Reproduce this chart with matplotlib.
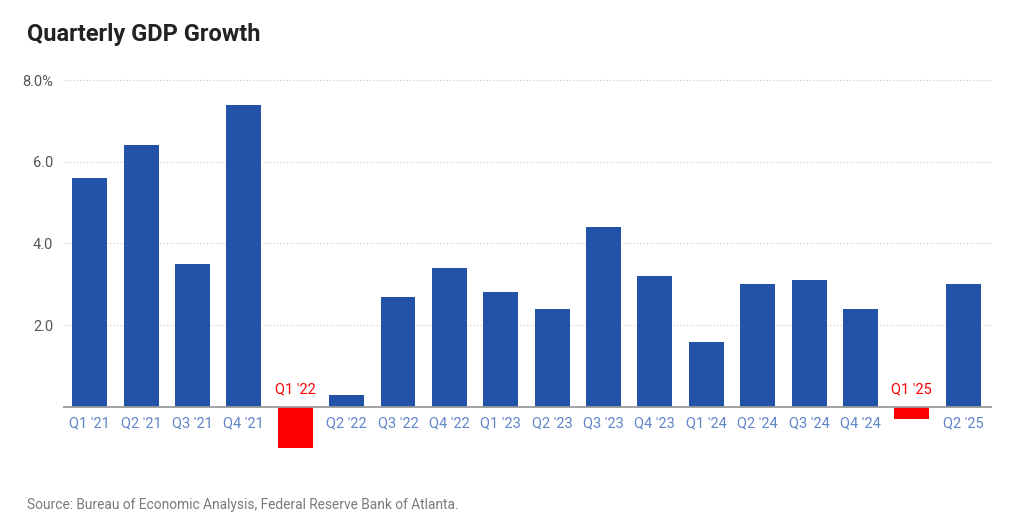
import matplotlib.pyplot as plt
import numpy as np

plt.rcParams['font.family'] = ['Roboto', 'DejaVu Sans']

# Data
quarters = ["Q1 '21", "Q2 '21", "Q3 '21", "Q4 '21", "Q1 '22", "Q2 '22", "Q3 '22", "Q4 '22",
            "Q1 '23", "Q2 '23", "Q3 '23", "Q4 '23", "Q1 '24", "Q2 '24", "Q3 '24", "Q4 '24",
            "Q1 '25", "Q2 '25"]
growth = [5.6, 6.4, 3.5, 7.4, -1.0, 0.3, 2.7, 3.4,
          2.8, 2.4, 4.4, 3.2, 1.6, 3.0, 3.1, 2.4,
          -0.3, 3.0]
yticks = [2.0, 4.0, 6.0, 8.0]
ytick_labels = ['2.0', '4.0', '6.0', '8.0%']

blue = '#2253a9'
red = '#ff0000'

fig = plt.figure(figsize=(10.24, 5.26), dpi=100)
ax = fig.add_axes([63/1024, 1 - 460/526, (992 - 63)/1024, (460 - 78)/526])

x = np.arange(len(quarters))
colors = [red if v < 0 else blue for v in growth]
ax.bar(x, growth, width=0.68, color=colors, zorder=3)

ax.set_xlim(-0.52, 17.56)
ax.set_ylim(-1.3, 8.05)
ax.set_yticks(yticks)
ax.set_yticklabels(ytick_labels)
ax.tick_params(axis='y', length=0, pad=7, labelsize=10.5, labelcolor='#555555')
ax.set_xticks([])
ax.yaxis.grid(True, linestyle=(0, (1, 2)), color='#c8c8c8', linewidth=0.8, zorder=0)
for s in ax.spines.values():
    s.set_visible(False)
ax.axhline(0, color='#9a9a9a', linewidth=1.3, zorder=4)

# quarter labels: below axis for positive bars, above in red for negative ones
for i, (q, v) in enumerate(zip(quarters, growth)):
    if v < 0:
        ax.text(i, 0.25, q, ha='center', va='bottom', color=red, fontsize=10.5)
    else:
        ax.text(i, -0.22, q, ha='center', va='top', color='#5f84c9', fontsize=10.5)

fig.text(27/1024, 1 - 35/526, 'Quarterly GDP Growth', fontsize=17, fontweight='bold',
         color='#222222', va='center')
fig.text(27/1024, 1 - 505/526, 'Source: Bureau of Economic Analysis, Federal Reserve Bank of Atlanta.',
         fontsize=9.9, color='#7a7a7a', va='center')

fig.savefig('out.png', dpi=100)
